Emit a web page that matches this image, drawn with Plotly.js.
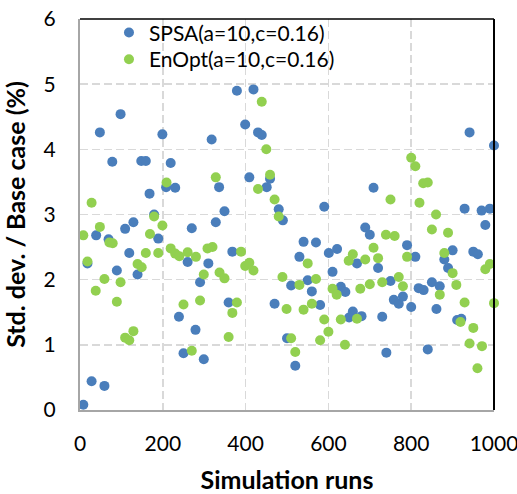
<!DOCTYPE html>
<html>
<head>
<meta charset="utf-8">
<script src="https://cdn.plot.ly/plotly-3.0.1.min.js"></script>
<style>html,body{margin:0;padding:0;background:#fff;}#chart{width:517px;height:494px;}</style>
</head>
<body>
<div id="chart"></div>
<script>
// SPSA(a=10,c=0.16)
const spsaRuns = [8,18,28,39,48,59,69,78,89,98,109,119,129,139,148,159,168,179,189,199,208,219,230,239,250,260,270,279,290,299,310,318,328,336,349,359,368,379,399,409,419,430,439,451,459,470,480,490,500,510,520,530,540,550,560,570,580,590,601,610,621,630,641,650,659,669,680,689,700,709,720,730,740,750,758,770,780,790,800,810,818,830,840,850,861,869,880,889,900,911,921,929,941,950,961,970,979,990,1000];
const spsaStd = [0.08,2.25,0.44,2.68,4.26,0.37,2.62,3.81,2.14,4.54,2.78,2.41,2.88,2.08,3.82,3.82,3.32,3.00,2.63,4.23,3.42,3.79,3.41,1.43,0.87,2.27,2.79,1.23,1.96,0.78,2.25,4.15,2.88,3.42,3.05,1.65,2.43,4.90,4.38,3.57,4.92,4.26,4.22,3.42,3.55,1.63,3.08,2.91,1.10,1.91,0.68,2.35,2.58,1.99,1.82,2.57,1.61,3.12,2.41,2.12,2.47,1.89,1.81,1.42,1.51,2.25,1.44,2.80,2.69,3.41,2.18,1.43,0.88,1.98,1.69,1.63,1.74,2.53,1.58,2.35,1.87,1.84,0.93,1.96,1.55,1.90,2.31,2.18,2.45,1.38,1.40,3.09,4.26,2.43,2.39,3.06,2.84,3.09,4.06];
// EnOpt(a=10,c=0.16)
const enoptRuns = [8,18,28,38,48,59,71,79,89,98,109,119,129,139,149,159,169,179,189,199,209,219,230,240,250,260,270,280,290,299,308,320,328,337,349,359,368,379,389,399,409,419,430,439,450,459,470,480,489,499,510,520,530,540,550,560,570,580,590,600,610,620,630,640,649,659,669,677,689,700,709,720,730,739,750,760,770,780,790,800,810,820,829,840,850,860,869,880,889,900,909,919,929,941,950,960,971,979,990,1000];
const enoptStd = [2.68,2.28,3.18,1.83,2.81,2.01,2.57,2.56,1.66,1.96,1.11,1.07,1.21,2.24,2.19,2.41,2.70,2.97,2.41,2.83,3.49,2.48,2.40,2.36,1.62,2.42,0.91,2.35,1.68,2.08,2.48,2.50,3.57,2.11,2.02,1.12,1.49,1.65,2.43,2.21,2.26,2.14,3.39,4.73,4.00,3.61,3.23,2.97,2.04,1.55,1.10,0.89,1.92,1.54,2.25,1.63,2.01,1.07,1.39,1.20,1.86,1.77,1.39,1.00,2.29,2.39,1.40,1.86,2.31,1.93,2.49,2.33,1.96,2.69,3.23,2.67,2.04,1.90,2.35,3.87,3.74,3.18,3.48,3.49,2.77,3.00,1.77,2.41,2.72,2.10,1.92,1.35,1.65,1.02,1.26,0.64,0.98,2.16,2.24,1.64];
const seriesNames = ['SPSA(a=10,c=0.16)', 'EnOpt(a=10,c=0.16)'];
const xTicks = [0,200,400,600,800,1000];
const yTicks = [0,1,2,3,4,5,6];

const FONT = 'Lato, "Liberation Sans", sans-serif';
const traces = [
  {x: spsaRuns, y: spsaStd, name: seriesNames[0], type: 'scatter', mode: 'markers',
   marker: {color: '#4A7EBB', size: 10}, cliponaxis: false, legend: 'legend'},
  {x: enoptRuns, y: enoptStd, name: seriesNames[1], type: 'scatter', mode: 'markers',
   marker: {color: '#92D050', size: 10}, cliponaxis: false, legend: 'legend2'}
];
const legendCommon = {xanchor: 'left', yanchor: 'middle', bgcolor: 'rgba(0,0,0,0)',
  font: {family: FONT, size: 21, color: '#000'}, itemsizing: 'trace', borderwidth: 0};
const axisCommon = {
  showgrid: true, gridcolor: '#D9D9D9', gridwidth: 1.5, griddash: '8px,4px',
  zeroline: false, showline: true, linecolor: '#A6A6A6', linewidth: 2,
  ticks: '', ticklabeloverflow: 'allow', automargin: false,
  tickfont: {family: FONT, size: 21, color: '#000'}
};
const layout = {
  width: 517, height: 494,
  margin: {l: 80, r: 23, t: 15, b: 84},
  paper_bgcolor: '#fff', plot_bgcolor: '#fff',
  font: {family: FONT, size: 21, color: '#000'},
  showlegend: true,
  legend: Object.assign({x: 0.07, y: 0.9646}, legendCommon),
  legend2: Object.assign({x: 0.07, y: 0.8962}, legendCommon),
  xaxis: Object.assign({}, axisCommon, {range: [0, 1000], tickmode: 'array', tickvals: xTicks,
    ticktext: xTicks.map(String), ticklabelstandoff: 14,
    title: {text: '<b>Simulation runs</b>', font: {family: FONT, size: 25, color: '#000'}, standoff: 24}}),
  yaxis: Object.assign({}, axisCommon, {range: [0, 6], tickmode: 'array', tickvals: yTicks,
    ticktext: yTicks.map(String), ticklabelstandoff: 18,
    title: {text: '<b>Std. dev. / Base case (%)</b>', font: {family: FONT, size: 25, color: '#000'}, standoff: 11}}),
  shapes: [
    {type: 'line', xref: 'paper', yref: 'paper', x0: 0, x1: 1, y0: 1, y1: 1, line: {color: '#000', width: 1.5}},
    {type: 'line', xref: 'paper', yref: 'paper', x0: 1, x1: 1, y0: 0, y1: 1, line: {color: '#000', width: 2}}
  ]
};
Plotly.newPlot('chart', traces, layout, {displayModeBar: false, staticPlot: true});
</script>
</body>
</html>
